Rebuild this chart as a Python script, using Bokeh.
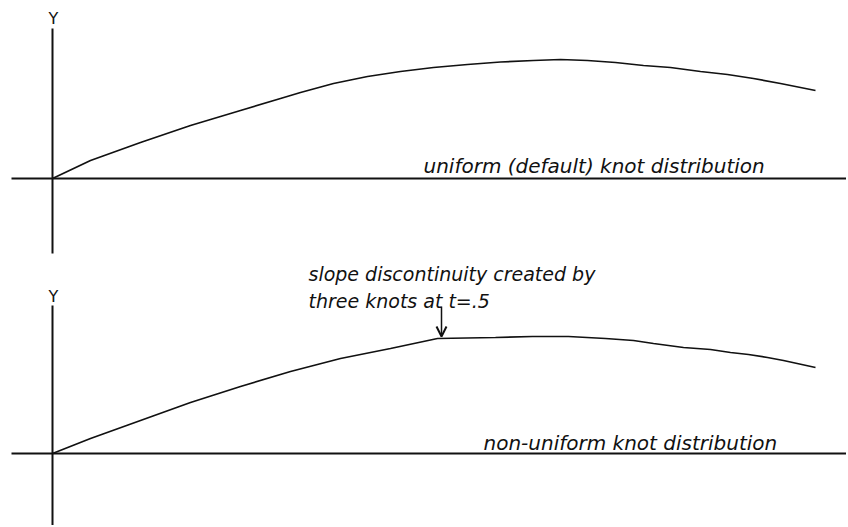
from bokeh.plotting import figure
from bokeh.models import Range1d, Arrow, OpenHead
from bokeh.layouts import column
from bokeh.embed import file_html
from bokeh.resources import INLINE
from bokeh.core.properties import value

# ---------------- data ----------------
# uniform (default) knot distribution
uniform_x = [0, 38, 88, 138, 188, 228, 248, 281, 315, 348, 381, 415, 448, 481, 508,
             535, 563, 591, 618, 648, 675, 701, 728, 763]
uniform_y = [0, 18, 36, 53, 68, 80, 86, 95, 102, 107, 111, 114, 116.5, 118, 119,
             118, 116, 113, 111, 107, 104, 100, 95, 88]

# non-uniform knot distribution (three knots at t=.5 -> slope discontinuity)
nonuniform_x = [0, 38, 88, 138, 188, 238, 288, 338, 385, 443, 480, 516, 553,
                581, 601, 631, 658, 678, 696, 715, 731, 763]
nonuniform_y = [0, 15, 33, 51, 67, 82, 95, 105, 115, 116, 117, 117, 115,
                113, 110, 106, 104, 101, 99, 96, 93, 86]

panel_labels = ["uniform (default) knot distribution", "non-uniform knot distribution"]
axis_name = "Y"
annotation_lines = ["slope discontinuity created by", "three knots at t=.5"]
knot_x = 389          # x of the triple knot (t = .5)

# axis extents
h_axis_x = [-41, 800]
top_v_axis_y = [150, -75]
bot_v_axis_y = [148, -80]

# ---------------- layout / style ----------------
W = 846
FONT = "DejaVu Sans"
INK = "#111111"


def make_fig(height, y0, y1):
    p = figure(width=W, height=height, x_range=Range1d(-52, W - 52), y_range=Range1d(y0, y1),
               output_backend="svg", toolbar_location=None, min_border=0,
               x_axis_location=None, y_axis_location=None)
    p.grid.visible = False
    p.outline_line_color = None
    p.background_fill_color = "white"
    p.border_fill_color = "white"
    return p


def draw_axes(p, v_extent):
    p.segment(x0=[h_axis_x[0]], y0=[0], x1=[h_axis_x[1]], y1=[0], line_color=INK, line_width=2)
    p.segment(x0=[0], y0=[v_extent[0]], x1=[0], y1=[v_extent[1]], line_color=INK, line_width=2)


# top panel
top = make_fig(255, -77, 178)
draw_axes(top, top_v_axis_y)
top.line(uniform_x, uniform_y, line_color=INK, line_width=1.7)
top.text(x=[1], y=[160], text=[axis_name], text_font=value(FONT), text_font_size="16px",
         text_align="center", text_baseline="alphabetic", text_color=INK)
top.text(x=[371], y=[13], text=[panel_labels[0]], text_font=value(FONT), text_font_size="20px",
         text_font_style="italic", text_align="left", text_baseline="alphabetic", text_color=INK)

# bottom panel
bot = make_fig(270, -72, 198)
draw_axes(bot, bot_v_axis_y)
bot.line(nonuniform_x, nonuniform_y, line_color=INK, line_width=1.7)
bot.text(x=[1], y=[157], text=[axis_name], text_font=value(FONT), text_font_size="16px",
         text_align="center", text_baseline="alphabetic", text_color=INK)
bot.text(x=[431], y=[11], text=[panel_labels[1]], text_font=value(FONT), text_font_size="20px",
         text_font_style="italic", text_align="left", text_baseline="alphabetic", text_color=INK)
bot.text(x=[256, 256], y=[180, 153], text=annotation_lines, text_font=value(FONT),
         text_font_size="19px", text_font_style="italic", text_align="left",
         text_baseline="alphabetic", text_color=INK)
bot.add_layout(Arrow(end=OpenHead(size=10, line_color=INK, line_width=2),
                     x_start=knot_x, y_start=147, x_end=knot_x, y_end=117,
                     line_color=INK, line_width=1.5))

layout = column(top, bot, spacing=0)
open("out.html", "w").write(file_html(layout, INLINE))
